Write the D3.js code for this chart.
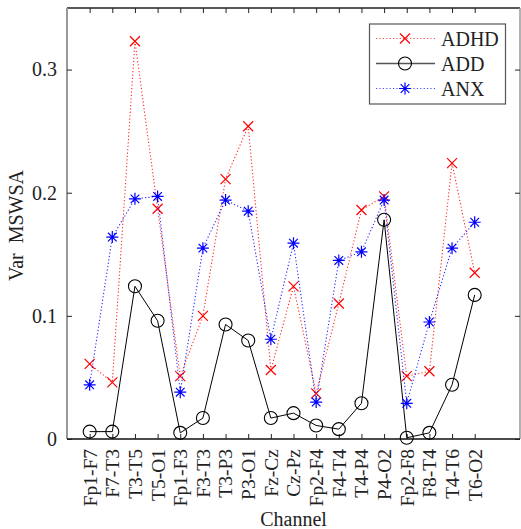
<!DOCTYPE html>
<html><head><meta charset="utf-8">
<script src="https://cdn.jsdelivr.net/npm/d3@7"></script>
<style>body{margin:0;background:#fff}svg{display:block}text{font-family:"Liberation Serif","Times New Roman",serif;fill:#222}</style>
</head><body>
<script>
const channels = ["Fp1-F7","F7-T3","T3-T5","T5-O1","Fp1-F3","F3-T3","T3-P3","P3-O1","Fz-Cz","Cz-Pz","Fp2-F4","F4-T4","T4-P4","P4-O2","Fp2-F8","F8-T4","T4-T6","T6-O2"];
const adhd = [0.061,0.046,0.323,0.187,0.051,0.100,0.211,0.254,0.056,0.124,0.037,0.110,0.186,0.197,0.051,0.055,0.224,0.135];
const add  = [0.006,0.006,0.124,0.096,0.005,0.017,0.093,0.080,0.017,0.021,0.011,0.008,0.029,0.178,0.001,0.005,0.044,0.117];
const anx  = [0.044,0.164,0.195,0.197,0.038,0.155,0.194,0.185,0.081,0.159,0.030,0.145,0.152,0.194,0.029,0.095,0.155,0.176];
const yTicks = [0,0.1,0.2,0.3];
const seriesNames = ["ADHD","ADD","ANX"];

const W=521,H=529;
const L=67,R=520,T=8,B=439;
const svg=d3.select("body").append("svg").attr("width",W).attr("height",H);
const x=d3.scaleLinear().domain([0,20]).range([L,R]);
const y=d3.scaleLinear().domain([0,0.35]).range([B,T]);
const FS="20px", FSX="19.5px";

// frame
svg.append("line").attr("x1",L).attr("x2",R).attr("y1",T).attr("y2",T).attr("stroke","#222").attr("stroke-width",1.5);
svg.append("line").attr("x1",L).attr("x2",L).attr("y1",T).attr("y2",B).attr("stroke","#999").attr("stroke-width",2);
svg.append("line").attr("x1",R).attr("x2",R).attr("y1",T).attr("y2",B).attr("stroke","#999").attr("stroke-width",1.5);

// bottom axis
const idx=d3.range(1,channels.length+1);
const xAxis=d3.axisBottom(x).tickValues(idx).tickSize(-5).tickFormat(d=>channels[d-1]);
const gx=svg.append("g").attr("transform",`translate(0,${B})`).call(xAxis);
gx.select(".domain").attr("stroke","#111").attr("stroke-width",1.3).attr("d",`M${L},0H${R}`);
gx.selectAll(".tick line").attr("stroke","#222");
gx.selectAll(".tick text").attr("font-size",FSX).attr("transform","rotate(-90)")
  .attr("text-anchor","end").attr("x",-10).attr("y",0).attr("dy","0.33em");
// top ticks
const gt=svg.append("g").attr("transform",`translate(0,${T})`).call(d3.axisTop(x).tickValues(idx).tickSize(-5).tickFormat(""));
gt.select(".domain").remove(); gt.selectAll(".tick line").attr("stroke","#222");

// left axis
const gy=svg.append("g").attr("transform",`translate(${L},0)`).call(d3.axisLeft(y).tickValues(yTicks).tickSize(-5).tickFormat(d=>d===0?"0":d3.format(".1f")(d)));
gy.select(".domain").remove();
gy.selectAll(".tick line").attr("stroke","#222");
gy.selectAll(".tick text").attr("font-size",FS).attr("x",-10).attr("dy","0.32em");
const gr=svg.append("g").attr("transform",`translate(${R},0)`).call(d3.axisRight(y).tickValues(yTicks).tickSize(-5).tickFormat(""));
gr.select(".domain").remove(); gr.selectAll(".tick line").attr("stroke","#222");

// labels
svg.append("text").attr("x",(L+R)/2).attr("y",526).attr("text-anchor","middle").attr("font-size",FS).text("Channel");
svg.append("text").attr("transform",`translate(23,${(T+B)/2+2}) rotate(-90)`).attr("text-anchor","middle").attr("font-size",FS).attr("xml:space","preserve").style("white-space","pre").text("Var  MSWSA");

const line=d3.line().x((d,i)=>x(i+1)).y(d=>y(d));

function crossPath(s){return `M${-s},${-s}L${s},${s}M${-s},${s}L${s},${-s}`;}
function starPath(s){const d=s*0.72;return `M${-s},0H${s}M0,${-s}V${s}M${-d},${-d}L${d},${d}M${-d},${d}L${d},${-d}`;}

const pal={ADHD:"#ff0000",ADD:"#000000",ANX:"#0000ff"};
const dataMap={ADHD:adhd,ADD:add,ANX:anx};

function drawMarker(g,name,cx,cy){
  if(name==="ADHD") g.append("path").attr("d",crossPath(5)).attr("transform",`translate(${cx},${cy})`).attr("stroke",pal.ADHD).attr("stroke-width",1.2).attr("fill","none");
  else if(name==="ADD") g.append("circle").attr("cx",cx).attr("cy",cy).attr("r",6.5).attr("stroke","#000").attr("stroke-width",1.1).attr("fill","none");
  else g.append("path").attr("d",starPath(6)).attr("transform",`translate(${cx},${cy})`).attr("stroke",pal.ANX).attr("stroke-width",1.2).attr("fill","none");
}

seriesNames.forEach(name=>{
  const vals=dataMap[name];
  const g=svg.append("g");
  g.append("path").datum(vals).attr("d",line).attr("fill","none").attr("stroke",pal[name])
    .attr("stroke-width",name==="ADD"?1:1.1).attr("stroke-dasharray",name==="ADD"?null:"1.2,2.2").attr("opacity",name==="ADD"?1:0.85);
  vals.forEach((v,i)=>drawMarker(g,name,x(i+1),y(v)));
});

// legend
const lg=svg.append("g");
lg.append("rect").attr("x",369.5).attr("y",24).attr("width",136).attr("height",80).attr("fill","#fff").attr("stroke","#555").attr("stroke-width",1.2);
seriesNames.forEach((name,i)=>{
  const ly=38.5+i*25;
  lg.append("line").attr("x1",376).attr("x2",435).attr("y1",ly).attr("y2",ly).attr("stroke",name==="ADD"?"#555":pal[name])
    .attr("stroke-width",name==="ADD"?1.6:1.1).attr("stroke-dasharray",name==="ADD"?null:"1.2,2.2").attr("opacity",name==="ADD"?1:0.7);
  drawMarker(lg,name,405,ly);
  lg.append("text").attr("x",441).attr("y",ly).attr("dy","0.35em").attr("font-size",FS).text(name);
});
</script>
</body></html>
